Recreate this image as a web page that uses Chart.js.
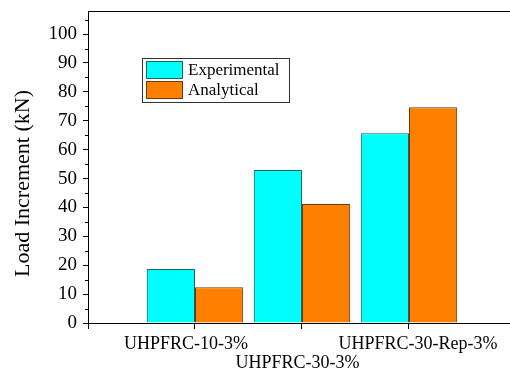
<!DOCTYPE html>
<html><head><meta charset="utf-8">
<script src="https://cdn.jsdelivr.net/npm/chart.js@4.4.0/dist/chart.umd.min.js"></script>
<style>html,body{margin:0;padding:0;background:#fff;overflow:hidden}#wrap{width:510px;height:372px;position:relative}</style>
</head><body><div id="wrap"><canvas id="c" width="510" height="372"></canvas></div>
<script>
const categories = ['UHPFRC-10-3%', 'UHPFRC-30-3%', 'UHPFRC-30-Rep-3%'];
const categoryPositions = [1, 2, 3];
const experimental = [18.7, 53.0, 65.7];
const analytical = [12.4, 41.2, 74.7];
const seriesNames = ['Experimental', 'Analytical'];
const yMajorTicks = [0, 10, 20, 30, 40, 50, 60, 70, 80, 90, 100];
const yMinorTicks = [5, 15, 25, 35, 45, 55, 65, 75, 85, 95, 105];
const xTicks = [0, 1, 2, 3];
const yTitle = 'Load Increment (kN)';

const serif = 'Liberation Serif, Times New Roman, serif';
const colors = ['#00FFFF', '#FF8000'];
const borders = ['#1d6464', '#6a3a12'];
// small horizontal nudges of the category labels (as in the original), in spaces
const labelPadBefore = ['', '', '    '];
const labelPadAfter = ['    ', '  ', ''];

const toPoints = vals => vals.map((v, i) => ({x: categoryPositions[i], y: v}));

const extras = {
  id: 'extras',
  afterDraw(chart) {
    const ctx = chart.ctx;
    const a = chart.chartArea;
    const ys = chart.scales.y;
    ctx.save();
    ctx.strokeStyle = '#000';
    ctx.lineWidth = 1;
    ctx.beginPath();
    ctx.moveTo(a.left, Math.round(a.top) + 0.5);
    ctx.lineTo(a.right, Math.round(a.top) + 0.5);
    ctx.stroke();
    yMinorTicks.forEach(v => {
      const py = Math.round(ys.getPixelForValue(v)) + 0.5;
      ctx.beginPath();
      ctx.moveTo(a.left - 3, py);
      ctx.lineTo(a.left, py);
      ctx.stroke();
    });
    ctx.strokeStyle = '#333';
    ctx.strokeRect(142.5, 58.5, 147, 44);
    chart.data.datasets.forEach((ds, i) => {
      const y0 = 61 + i * 20;
      ctx.fillStyle = ds.backgroundColor;
      ctx.fillRect(146, y0, 37, 18);
      ctx.strokeStyle = ds.borderColor;
      ctx.strokeRect(146.5, y0 + 0.5, 36, 17);
      ctx.fillStyle = '#000';
      ctx.font = '17px ' + serif;
      ctx.textBaseline = 'middle';
      ctx.textAlign = 'left';
      ctx.fillText(ds.label, 188, y0 + 9.5);
    });
    ctx.restore();
  }
};

new Chart(document.getElementById('c'), {
  type: 'bar',
  data: {
    datasets: [
      {label: seriesNames[0], data: toPoints(experimental), backgroundColor: colors[0], borderColor: borders[0], borderWidth: 1},
      {label: seriesNames[1], data: toPoints(analytical), backgroundColor: colors[1], borderColor: borders[1], borderWidth: 1}
    ]
  },
  options: {
    responsive: false,
    animation: false,
    categoryPercentage: 0.9,
    barPercentage: 1.0,
    layout: {padding: {top: 11, right: 0, left: 0, bottom: 0}},
    plugins: {legend: {display: false}, tooltip: {enabled: false}},
    scales: {
      x: {
        type: 'linear', min: 0, max: 3.944, offset: false,
        afterBuildTicks(s) { s.ticks = xTicks.map(v => ({value: v})); },
        afterFit(s) { s.height = 49; s.paddingLeft = 0; s.paddingRight = 0; },
        grid: {display: true, drawOnChartArea: false, drawTicks: true, tickLength: 6, color: '#000', offset: false},
        border: {display: true, color: '#000', width: 1},
        ticks: {
          color: '#000', maxRotation: 0, minRotation: 0, autoSkip: false, padding: 5,
          font: {family: serif, size: 18, lineHeight: 1.1},
          callback(v) {
            const i = categoryPositions.indexOf(v);
            if (i < 0) return '';
            const t = labelPadBefore[i] + categories[i] + labelPadAfter[i];
            return i % 2 === 1 ? ['', t] : t;
          }
        }
      },
      y: {
        min: 0, max: 108,
        afterBuildTicks(s) { s.ticks = yMajorTicks.map(v => ({value: v})); },
        afterFit(s) { s.width = 88; s.paddingTop = 0; s.paddingBottom = 0; },
        grid: {display: true, drawOnChartArea: false, drawTicks: true, tickLength: 5, color: '#000'},
        border: {display: true, color: '#000', width: 1},
        ticks: {color: '#000', padding: 6, font: {family: serif, size: 19}},
        title: {display: true, text: yTitle + '      ', color: '#000', font: {family: serif, size: 22}, padding: {top: 10, bottom: 0}}
      }
    }
  },
  plugins: [extras]
});
</script></body></html>
